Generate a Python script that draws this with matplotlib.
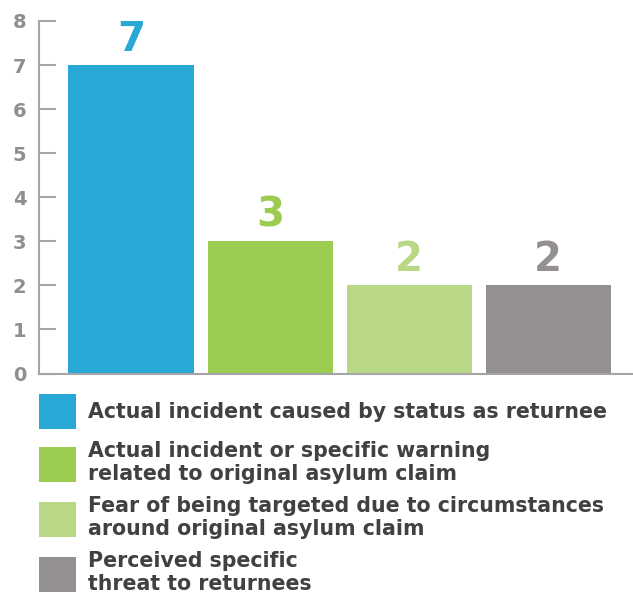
import matplotlib.pyplot as plt
import numpy as np

# data
categories = [
    'Actual incident caused by status as returnee',
    'Actual incident or specific warning\nrelated to original asylum claim',
    'Fear of being targeted due to circumstances\naround original asylum claim',
    'Perceived specific\nthreat to returnees',
]
counts = [7, 3, 2, 2]
colors = ['#29a8d6', '#9bcb50', '#b8d886', '#948f90']
yticks = [0, 1, 2, 3, 4, 5, 6, 7, 8]

font = 'DejaVu Sans'
axis_grey = '#a5a5a5'
text_grey = '#414141'

fig = plt.figure(figsize=(6.33, 5.97), dpi=100)
ax = fig.add_axes([39 / 633, 1 - 373.5 / 597, 1 - 39 / 633, (373.5 - 21) / 597])

x = np.arange(len(counts))
bars = ax.bar(x, counts, width=0.9, color=colors)

# value labels above the bars, same colour as the bar
labels = ax.bar_label(bars, padding=4, fontsize=29, fontweight='bold', family=font)
for t, c in zip(labels, colors):
    t.set_color(c)

ax.set_xlim(-0.662, 3.61)
ax.set_ylim(0, 8)
ax.set_yticks(yticks)
ax.set_xticks([])
ax.tick_params(axis='y', direction='in', length=12, width=1.5, color=axis_grey,
               pad=9, labelsize=14, labelcolor='#8f8f8f')
for t in ax.get_yticklabels():
    t.set_fontweight('bold')
    t.set_family(font)

for s in ['top', 'right']:
    ax.spines[s].set_visible(False)
for s in ['left', 'bottom']:
    ax.spines[s].set_color(axis_grey)
    ax.spines[s].set_linewidth(1.5)

leg = fig.legend(bars, categories, loc='upper left', bbox_to_anchor=(39 / 633, 1 - 394 / 597),
                 frameon=False, prop={'family': font, 'weight': 'bold', 'size': 14.8},
                 labelcolor=text_grey, handlelength=1.8, handleheight=2.24,
                 handletextpad=0.58, labelspacing=0.58, borderaxespad=0, borderpad=0)

fig.savefig('out.png', dpi=100)
